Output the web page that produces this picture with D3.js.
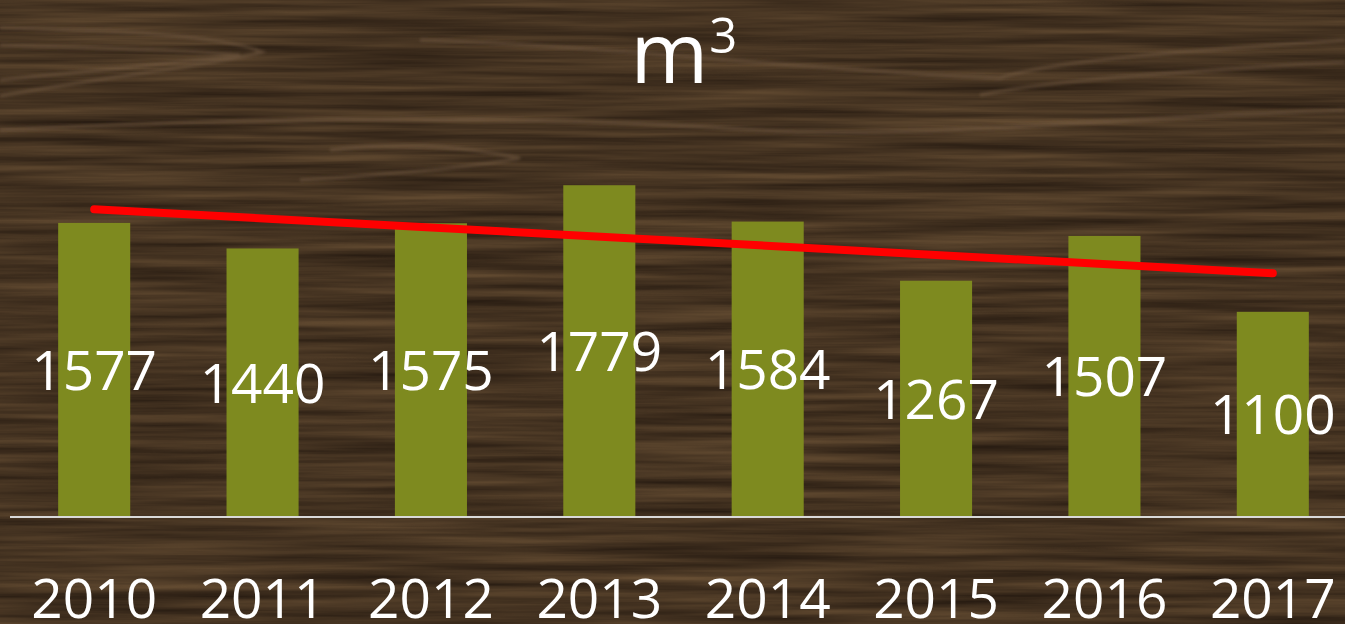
<!DOCTYPE html>
<html>
<head>
<meta charset="utf-8">
<script src="https://cdn.jsdelivr.net/npm/d3@7"></script>
<style>
  html, body { margin: 0; padding: 0; background: #432f21; }
  svg { display: block; }
</style>
</head>
<body>
<div id="container"></div>
<script>
// Chart data
var years = ["2010", "2011", "2012", "2013", "2014", "2015", "2016", "2017"];
var volumes = [1577, 1440, 1575, 1779, 1584, 1267, 1507, 1100];
var title = "m";
var titleSup = "3";

var width = 1345;
var height = 624;

var svg = d3.select("#container")
    .append("svg")
    .attr("width", width)
    .attr("height", height);

// Wood background: stretched noise mapped to brown tones
var defs = svg.append("defs");
var wood = defs.append("filter")
    .attr("id", "wood")
    .attr("x", 0).attr("y", 0)
    .attr("width", "100%").attr("height", "100%")
    .attr("color-interpolation-filters", "sRGB");
wood.append("feTurbulence")
    .attr("type", "fractalNoise")
    .attr("baseFrequency", "0.0035 0.11")
    .attr("numOctaves", 4)
    .attr("seed", 7)
    .attr("result", "noise");
wood.append("feColorMatrix")
    .attr("in", "noise")
    .attr("type", "matrix")
    .attr("values",
        "0.30 0 0 0 0.12 " +
        "0.24 0 0 0 0.08 " +
        "0.16 0 0 0 0.05 " +
        "0 0 0 0 1");

var blur = defs.append("filter").attr("id", "soft");
blur.append("feGaussianBlur").attr("stdDeviation", 1.5);

svg.append("rect")
    .attr("width", width)
    .attr("height", height)
    .attr("fill", "#432f21");
svg.append("rect")
    .attr("width", width)
    .attr("height", height)
    .attr("filter", "url(#wood)");

// A few swirls of grain near the top
var swirls = [
    "M0,28 C120,30 220,35 262,52 C230,62 120,75 0,96",
    "M0,45 C110,48 190,50 240,55 C190,62 100,70 0,80",
    "M420,40 C600,45 800,70 1000,78 C1050,60 1200,50 1345,40",
    "M330,150 C420,140 480,150 520,158 C470,168 380,175 300,180",
    "M980,95 C1050,80 1200,70 1345,62",
    "M0,130 C200,120 500,112 760,130 C900,140 1100,118 1345,110"
];
svg.append("g")
    .attr("filter", "url(#soft)")
    .selectAll("path")
    .data(swirls)
    .enter()
    .append("path")
    .attr("d", function(d) { return d; })
    .attr("fill", "none")
    .attr("stroke", "#7a6047")
    .attr("stroke-opacity", 0.5)
    .attr("stroke-width", 3);

// Scales
var x = d3.scaleBand()
    .domain(years)
    .range([10, 1357])
    .paddingInner(0.572)
    .paddingOuter(0.286);

var y = d3.scaleLinear()
    .domain([0, 2000])
    .range([517, 144]);

// Bars
svg.selectAll(".bar")
    .data(volumes)
    .enter()
    .append("rect")
    .attr("class", "bar")
    .attr("x", function(d, i) { return x(years[i]); })
    .attr("width", x.bandwidth())
    .attr("y", function(d) { return y(d); })
    .attr("height", function(d) { return y(0) - y(d); })
    .attr("fill", "#7e8a1f");

// Baseline axis
var axis = svg.append("g")
    .attr("transform", "translate(0," + y(0) + ")")
    .call(d3.axisBottom(x).tickSize(0).tickPadding(0));
axis.select(".domain")
    .attr("d", "M10,0H" + width)
    .attr("stroke", "#d9d9d9")
    .attr("stroke-width", 2);
axis.selectAll(".tick text")
    .attr("y", 101)
    .attr("dy", null)
    .attr("fill", "#ffffff")
    .style("font-family", "'Open Sans', sans-serif")
    .style("font-size", "55px");

// Linear trend line (least squares over the series)
var n = volumes.length;
var meanX = (n - 1) / 2;
var meanY = d3.mean(volumes);
var sxy = d3.sum(volumes, function(d, i) { return (i - meanX) * (d - meanY); });
var sxx = d3.sum(volumes, function(d, i) { return (i - meanX) * (i - meanX); });
var slope = sxy / sxx;
var trend = [0, n - 1].map(function(i) {
    return [i, meanY + slope * (i - meanX)];
});

var line = d3.line()
    .x(function(d) { return x(years[d[0]]) + x.bandwidth() / 2; })
    .y(function(d) { return y(d[1]); });

svg.append("path")
    .datum(trend)
    .attr("d", line)
    .attr("fill", "none")
    .attr("stroke", "#ff0000")
    .attr("stroke-width", 8)
    .attr("stroke-linecap", "round");

// Value labels, centered in each bar
svg.selectAll(".value")
    .data(volumes)
    .enter()
    .append("text")
    .attr("class", "value")
    .attr("x", function(d, i) { return x(years[i]) + x.bandwidth() / 2; })
    .attr("y", function(d) { return (y(d) + y(0)) / 2 + 20; })
    .attr("text-anchor", "middle")
    .attr("fill", "#ffffff")
    .style("font-family", "'Open Sans', sans-serif")
    .style("font-size", "55px")
    .text(function(d) { return d; });

// Title
var t = svg.append("text")
    .attr("x", 684)
    .attr("y", 83)
    .attr("text-anchor", "middle")
    .attr("fill", "#ffffff")
    .style("font-family", "'Open Sans', sans-serif")
    .style("font-size", "84px");
t.append("tspan").text(title);
t.append("tspan")
    .attr("dy", -30)
    .attr("dx", 1)
    .style("font-size", "49px")
    .text(titleSup);
</script>
</body>
</html>
